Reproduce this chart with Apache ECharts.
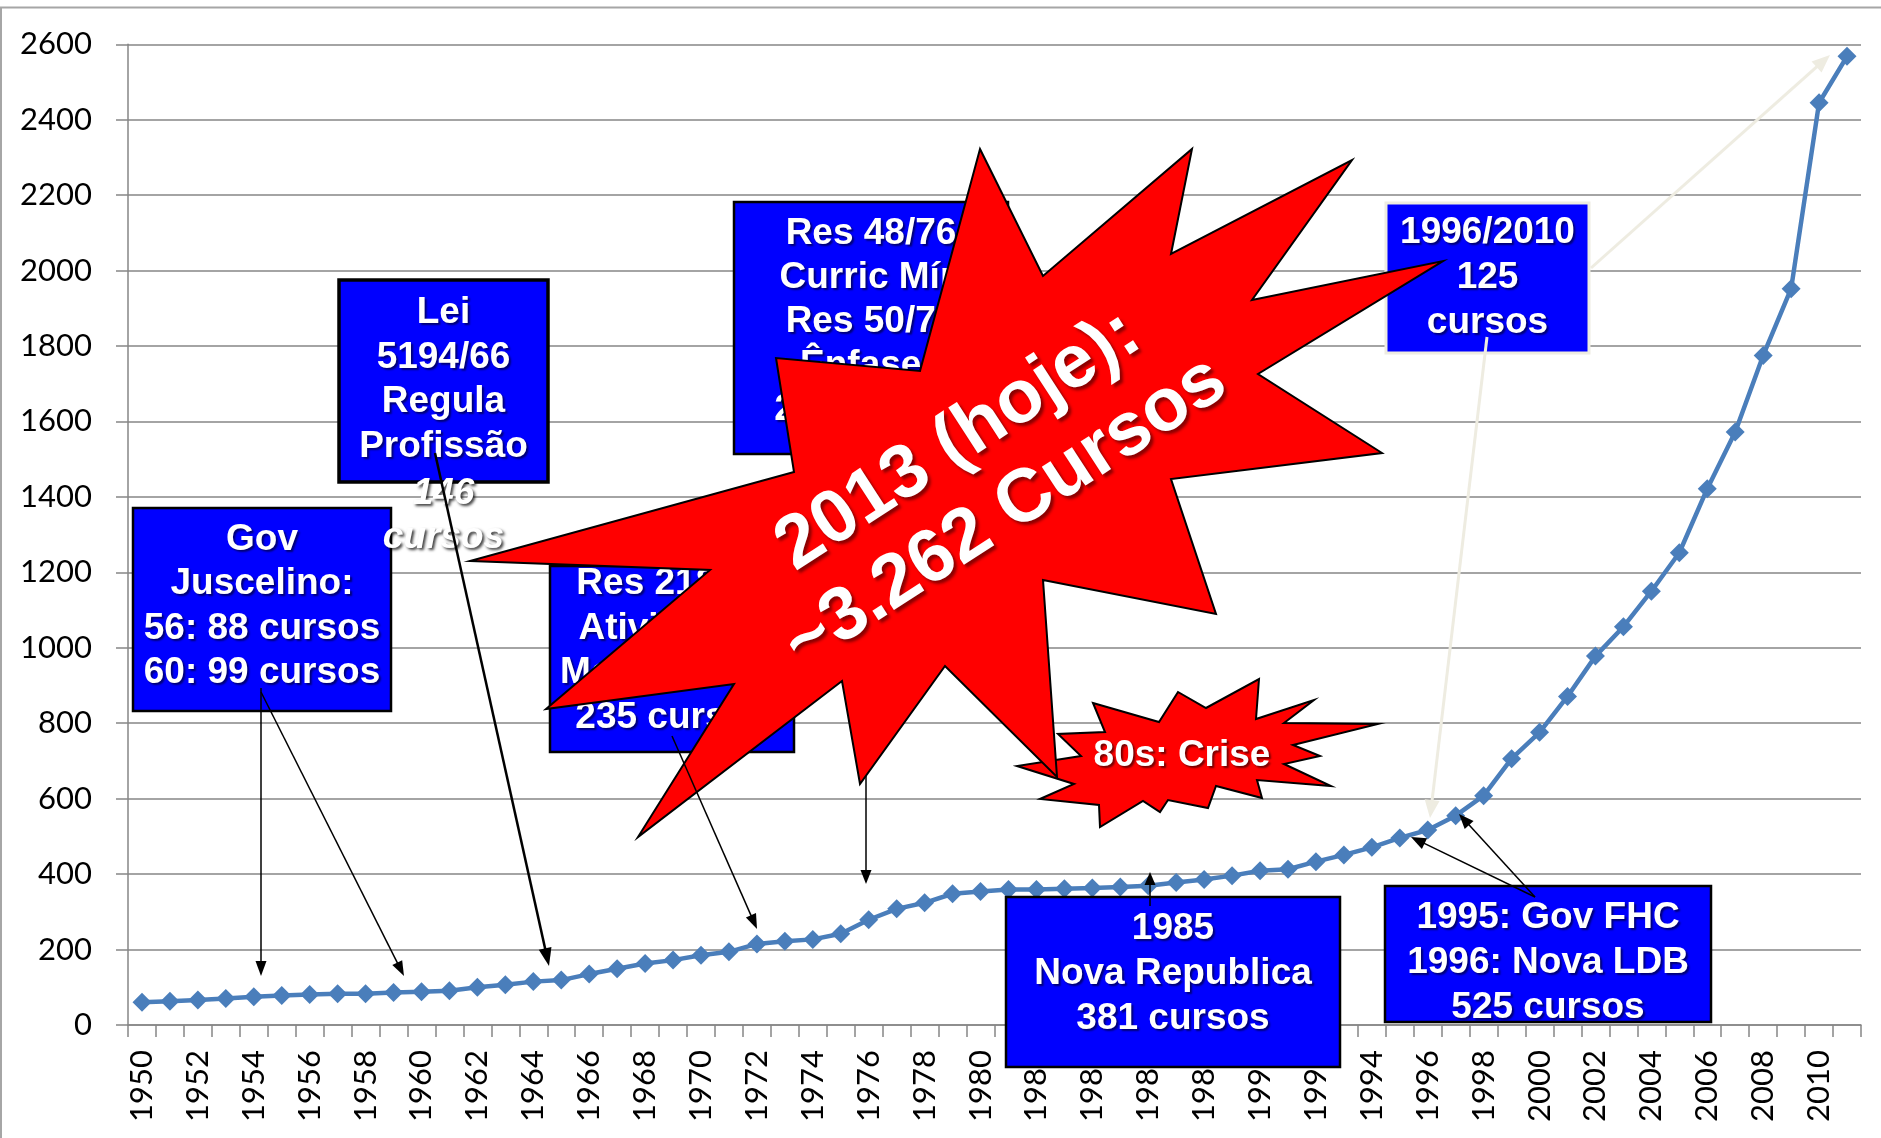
<!DOCTYPE html>
<html><head><meta charset="utf-8">
<script src="https://cdn.jsdelivr.net/npm/echarts@6/dist/echarts.min.js"></script>
<style>html,body{margin:0;padding:0;background:#fff}#c{width:1881px;height:1138px}</style>
</head><body><div id="c"></div>
<script>
const years = ['1950','1951','1952','1953','1954','1955','1956','1957','1958','1959',
  '1960','1961','1962','1963','1964','1965','1966','1967','1968','1969',
  '1970','1971','1972','1973','1974','1975','1976','1977','1978','1979',
  '1980','1981','1982','1983','1984','1985','1986','1987','1988','1989',
  '1990','1991','1992','1993','1994','1995','1996','1997','1998','1999',
  '2000','2001','2002','2003','2004','2005','2006','2007','2008','2009',
  '2010','2011'];
const cursos = [60,63,66,70,75,78,81,83,83,86,
  88,91,100,107,115,119,135,149,163,172,
  185,194,215,222,227,242,279,308,324,348,
  354,359,359,361,363,366,369,378,386,396,
  409,413,433,451,471,496,517,555,608,706,
  776,871,978,1056,1150,1252,1422,1572,1775,1952,
  2445,2568];
const yMin = 0, yMax = 2600, yStep = 200;

const notes = {
  gov: 'Gov\nJuscelino:\n56: 88 cursos\n60: 99 cursos',
  lei: 'Lei\n5194/66\nRegula\nProfissão',
  lei2: '146\ncursos',
  res48: 'Res 48/76\nCurric Mín\nRes 50/76\nÊnfases\n280 cursos',
  res218: 'Res 218/73\nAtividades\nModalidades\n235 cursos',
  nova: '1985\nNova Republica\n381 cursos',
  fhc: '1995: Gov FHC\n1996: Nova LDB\n525 cursos',
  ldb: '1996/2010\n125\ncursos',
  crise: '80s: Crise',
  hoje: '2013 (hoje):\n~3.262 Cursos'
};

const FONT = '"Liberation Sans", Arial, sans-serif';
const AXF = 'Lato, "Open Sans", sans-serif';

function box(x,y,w,h,stroke,lw,z){
  return {type:'rect', shape:{x:x,y:y,width:w,height:h}, style:{fill:'#0000ff', stroke:stroke, lineWidth:lw}, z:z||100};
}
function txt(x,y,text,size,lh,z,extra){
  const st = Object.assign({text:text, x:0, y:0, fill:'#ffffff', fontSize:size, fontWeight:'bold', fontFamily:FONT,
    align:'center', verticalAlign:'middle', lineHeight:lh,
    textShadowColor:'rgba(0,0,0,0.55)', textShadowBlur:2, textShadowOffsetX:2, textShadowOffsetY:2}, extra||{});
  return {type:'text', x:x, y:y, style:st, z:z||101};
}
function arrow(x1,y1,x2,y2,color,lw,hl,hw,z){
  const dx=x2-x1, dy=y2-y1, L=Math.hypot(dx,dy), ux=dx/L, uy=dy/L;
  const bx=x2-ux*hl, by=y2-uy*hl, px=-uy*hw/2, py=ux*hw/2;
  return [
    {type:'line', shape:{x1:x1,y1:y1,x2:bx+ux*2,y2:by+uy*2}, style:{stroke:color,lineWidth:lw}, z:z},
    {type:'polygon', shape:{points:[[x2,y2],[bx+px,by+py],[bx-px,by-py]]}, style:{fill:color}, z:z}
  ];
}

const bigStar = [[980,149],[1043,276],[1192,149],[1171,254],[1352,160],[1252,300],[1443,261],[1258,374],
  [1382,453],[1171,479],[1216,614],[1043,580],[1057,777],[945,666],[860,784],[842,681],[638,837],
  [734,684],[546,709],[710,570],[470,561],[794,472],[776,358],[920,371]];
const criseStar = [[1093,703],[1159,722],[1178,692],[1206,708],[1259,679],[1256,719],[1314,700],[1284,723],
  [1378,724],[1293,745],[1320,756],[1284,764],[1331,786],[1257,780],[1262,798],[1216,786],[1208,808],
  [1168,800],[1160,812],[1143,801],[1100,827],[1099,805],[1040,799],[1074,784],[1017,766],[1081,756],
  [1058,734],[1105,732]];

let g = [];
g.push({type:'rect', shape:{x:1,y:7.5,width:1900,height:1200}, style:{fill:'none', stroke:'#a6a6a6', lineWidth:2}, z:0});
g.push(box(133,508,258,203,'#000',2.5));
g.push(txt(262,606.5,notes.gov,37,44.5));
g.push(box(339,280,209,202,'#000',3.5));
g.push(txt(443.5,380,notes.lei,37,44.5));
g.push(txt(443.5,516,notes.lei2,37,44,101,{fontStyle:'italic', textShadowColor:'rgba(0,0,0,0.75)', textShadowBlur:3, textShadowOffsetX:2, textShadowOffsetY:2}));
g.push(box(734,202,274,252,'#000',2.5));
g.push(txt(871,321.5,notes.res48,37,44));
g.push(box(550,566,244,186,'#000',2.5));
g.push(txt(672,651,notes.res218,37,44.5));
g.push(box(1006,897,334,170,'#000',2.5));
g.push(txt(1173,974,notes.nova,37,45));
g.push(box(1385,886,326,136,'#000',2.5));
g.push(txt(1548,962.5,notes.fhc,37,45));
g.push(box(1386,203,203,150,'#eeece1',3));
g.push(txt(1487.5,278,notes.ldb,37,45));
g = g.concat(arrow(866,454,866,884,'#000',1.5,14,11,102));
g.push({type:'polygon', shape:{points:criseStar}, style:{fill:'#ff0000', stroke:'#000', lineWidth:2}, z:103});
g.push(txt(1182,756,notes.crise,37,40,104));
g.push({type:'polygon', shape:{points:bigStar}, style:{fill:'#ff0000', stroke:'#000', lineWidth:2}, z:105});
g.push({type:'text', x:982, y:477, rotation:33*Math.PI/180,
  style:{text:notes.hoje, x:0, y:0, fill:'#fff', fontSize:75, fontWeight:'bold', fontFamily:FONT,
    align:'center', verticalAlign:'middle', lineHeight:86,
    textShadowColor:'rgba(60,0,0,0.6)', textShadowBlur:3, textShadowOffsetX:3, textShadowOffsetY:3}, z:106});
g = g.concat(arrow(261,688,261,976,'#000',1.5,15,11,107));
g = g.concat(arrow(261,692,404,976,'#000',1.5,15,11,107));
g = g.concat(arrow(435,453,549,966,'#000',2.5,18,13,107));
g = g.concat(arrow(672,736,757,929,'#000',1.5,15,11,107));
g = g.concat(arrow(1150,906,1150,872,'#000',1.5,13,11,107));
g = g.concat(arrow(1535,897,1411,837,'#000',1.5,15,12,107));
g = g.concat(arrow(1535,897,1459,814,'#000',1.5,15,12,107));
g = g.concat(arrow(1591,268,1830,55,'#eeece1',3,18,15,107));
g = g.concat(arrow(1487,337,1430,818,'#eeece1',3,18,15,107));

const chart = echarts.init(document.getElementById('c'), null, {renderer:'canvas'});
chart.setOption({
  animation:false,
  backgroundColor:'#ffffff',
  grid:{left:128, right:20, top:44.3, bottom:113, containLabel:false, outerBoundsMode:'none'},
  xAxis:{type:'category', data:years, boundaryGap:true,
    axisLine:{show:true, lineStyle:{color:'#868686', width:1.5}},
    axisTick:{show:true, interval:0, length:12, lineStyle:{color:'#868686', width:1.5}},
    axisLabel:{interval:1, rotate:90, margin:25, color:'#000', fontSize:31, fontFamily:AXF},
    splitLine:{show:false}},
  yAxis:{type:'value', min:yMin, max:yMax, interval:yStep,
    axisLine:{show:true, lineStyle:{color:'#868686', width:1.5}},
    axisTick:{show:true, length:12, lineStyle:{color:'#868686', width:1.5}},
    axisLabel:{margin:36, color:'#000', fontSize:31, fontFamily:AXF, formatter:function(v){return String(v);}},
    splitLine:{show:true, lineStyle:{color:'#868686', width:1.5}}},
  series:[{type:'line', data:cursos, symbol:'diamond', symbolSize:19, showSymbol:true, showAllSymbol:true,
    lineStyle:{color:'#4a7ebb', width:4.5}, itemStyle:{color:'#4a7ebb'}, z:3}],
  graphic:{elements:g}
});
</script></body></html>
